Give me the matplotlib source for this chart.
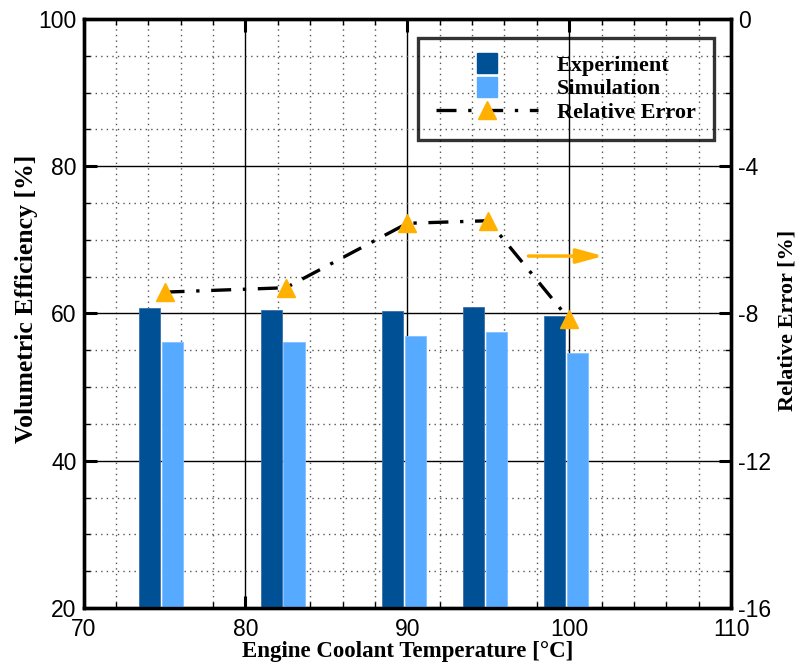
import matplotlib
matplotlib.use("Agg")
import matplotlib.pyplot as plt
from matplotlib.lines import Line2D
from matplotlib.ticker import MultipleLocator

# values
temps = [75, 82.5, 90, 95, 100]
experiment = [60.8, 60.5, 60.35, 60.9, 59.6]
simulation = [56.1, 56.1, 57.0, 57.5, 54.7]
rel_error = [-7.42, -7.30, -5.55, -5.48, -8.16]

exp_color = '#005096'
sim_color = '#56AAFF'
orange = '#FFB000'

plt.rcParams['font.family'] = ['Liberation Sans', 'DejaVu Sans']
plt.rcParams['axes.unicode_minus'] = False

fig = plt.figure(figsize=(8, 6.62), dpi=100)
ax1 = fig.add_axes([0.1045, 0.0816, 0.8093, 0.8897])
ax2 = ax1.twinx()

# bars
width = 1.3
ax1.bar([t - 0.9 for t in temps], experiment, width=width, color=exp_color,
        edgecolor='#3a70aa', linewidth=0.6, zorder=3)
ax1.bar([t + 0.5 for t in temps], simulation, width=width, color=sim_color,
        edgecolor='#80c0ff', linewidth=0.6, zorder=3)

ax1.set_xlim(70, 110)
ax1.set_ylim(20, 100)
ax1.xaxis.set_major_locator(MultipleLocator(10))
ax1.xaxis.set_minor_locator(MultipleLocator(2))
ax1.yaxis.set_major_locator(MultipleLocator(20))
ax1.yaxis.set_minor_locator(MultipleLocator(5))
ax1.grid(which='major', color='black', linewidth=1.0, linestyle='-', zorder=1)
ax1.grid(which='minor', color='#555555', linewidth=1.0, linestyle=(0, (1, 3)), zorder=1)
ax1.set_axisbelow(True)

# relative error line
ax2.plot(temps, rel_error, color='black', linewidth=2.4,
         linestyle=(0, (6, 3.5, 1, 3.5)), zorder=4)
ax2.plot(temps, rel_error, linestyle='none', marker='^', markersize=13,
         color=orange, zorder=5)
ax2.set_ylim(-16, 0)
ax2.yaxis.set_major_locator(MultipleLocator(4))
ax2.yaxis.set_minor_locator(MultipleLocator(1))

# arrow pointing to the right axis
ax2.annotate('', xy=(102.1, -6.44), xytext=(97.48, -6.44),
             arrowprops=dict(arrowstyle='-|>,head_length=0.8,head_width=0.22',
                             color=orange, lw=2.5, mutation_scale=20,
                             shrinkA=0, shrinkB=0))

for ax in (ax1, ax2):
    for sp in ax.spines.values():
        sp.set_linewidth(2.4)
    ax.tick_params(which='major', direction='in', length=9, width=2.2,
                   labelsize=16.5, pad=5)
    ax.tick_params(which='minor', direction='in', length=4, width=1)
ax1.tick_params(which='both', top=True)
ax1.tick_params(axis='x', pad=7)

serif = 'Liberation Serif'
ax1.set_xlabel('Engine Coolant Temperature [°C]', family=serif, weight='bold',
               size=16.5, labelpad=0)
ax1.set_ylabel('Volumetric Efficiency [%]', family=serif, weight='bold',
               size=18.5)
ax1.yaxis.set_label_coords(-0.071, 0.525)
ax2.set_ylabel('Relative Error [%]', family=serif, weight='bold', size=16)
ax2.yaxis.set_label_coords(1.071, 0.489)

handles = [
    Line2D([], [], linestyle='none', marker='s', markersize=14, color=exp_color),
    Line2D([], [], linestyle='none', marker='s', markersize=14, color=sim_color),
    Line2D([], [], color='black', linewidth=2.4, linestyle=(0, (6, 3.5, 1, 3.5)),
           marker='^', markersize=13, markerfacecolor=orange,
           markeredgecolor=orange),
]
leg = ax2.legend(handles, ['Experiment', 'Simulation', 'Relative Error'],
                 loc='upper left', bbox_to_anchor=(0.5165, 0.968),
                 prop=dict(family=serif, weight='bold', size=16),
                 handlelength=4.6, handletextpad=0.85, labelspacing=0.12,
                 borderpad=0.8, borderaxespad=0, fancybox=False,
                 frameon=True)
leg.get_frame().set_edgecolor('black')
leg.get_frame().set_linewidth(2.4)
leg.get_frame().set_facecolor('none')
leg.set_zorder(10)

fig.savefig('out.png', dpi=100)
